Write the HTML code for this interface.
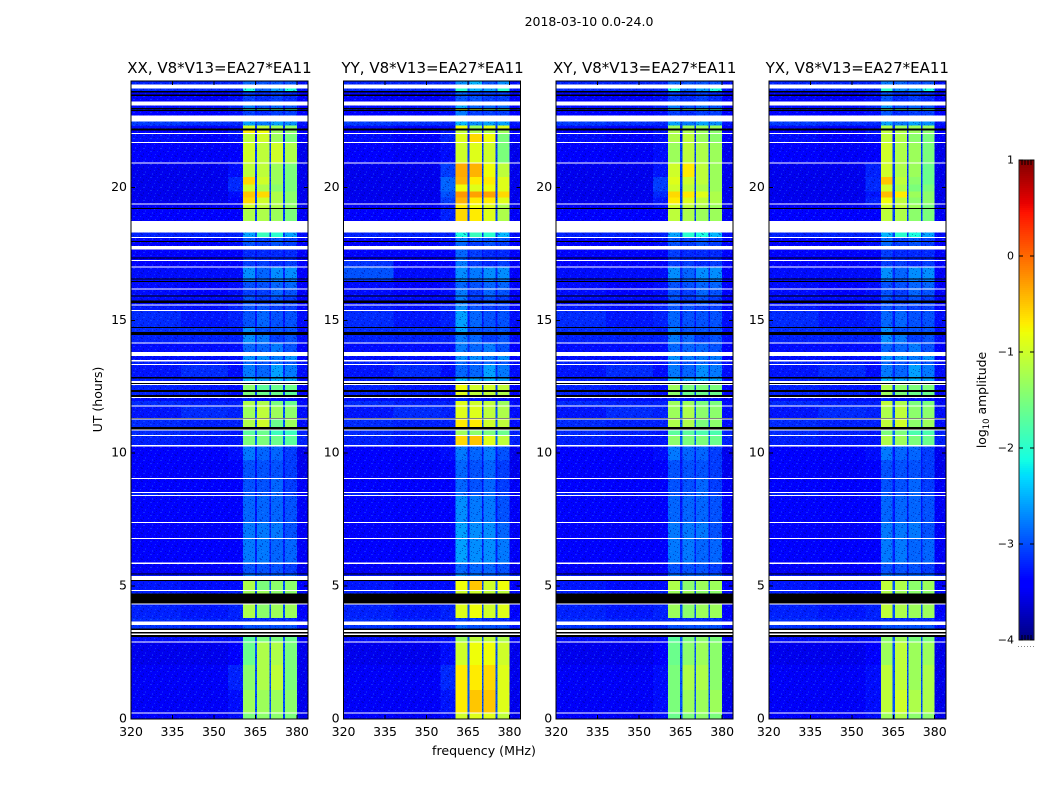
<!DOCTYPE html>
<html>
<head>
<meta charset="utf-8">
<title>2018-03-10 0.0-24.0</title>
<style>
html,body{margin:0;padding:0;background:#fff;width:1050px;height:800px;overflow:hidden}
svg{display:block;font-family:"DejaVu Sans","Liberation Sans",sans-serif;fill:#000}
</style>
</head>
<body>
<svg id="figure" xmlns="http://www.w3.org/2000/svg" width="1050" height="800" viewBox="0 0 1050 800">
<defs>
<pattern id="speckle" patternUnits="userSpaceOnUse" width="17" height="13" shape-rendering="crispEdges">
<rect x="1" y="1" width="1" height="1" fill="#2a7cff" opacity=".35"/>
<rect x="5" y="0" width="2" height="1" fill="#00008c" opacity=".4"/>
<rect x="9" y="2" width="1" height="2" fill="#1f6cff" opacity=".3"/>
<rect x="14" y="1" width="1" height="1" fill="#00008c" opacity=".4"/>
<rect x="3" y="4" width="1" height="1" fill="#00008c" opacity=".4"/>
<rect x="7" y="5" width="2" height="1" fill="#3a8cff" opacity=".3"/>
<rect x="12" y="5" width="1" height="1" fill="#00008c" opacity=".4"/>
<rect x="16" y="4" width="1" height="2" fill="#2a7cff" opacity=".3"/>
<rect x="0" y="7" width="2" height="1" fill="#00008c" opacity=".35"/>
<rect x="4" y="8" width="1" height="1" fill="#2a7cff" opacity=".35"/>
<rect x="10" y="8" width="1" height="1" fill="#00008c" opacity=".4"/>
<rect x="14" y="8" width="2" height="1" fill="#3a8cff" opacity=".3"/>
<rect x="2" y="11" width="1" height="1" fill="#3a8cff" opacity=".3"/>
<rect x="7" y="10" width="1" height="2" fill="#00008c" opacity=".4"/>
<rect x="12" y="11" width="1" height="1" fill="#2a7cff" opacity=".35"/>
<rect x="3" y="2" width="1" height="1" fill="#00008c" opacity=".35"/>
<rect x="11" y="0" width="1" height="1" fill="#00008c" opacity=".35"/>
<rect x="6" y="3" width="1" height="1" fill="#00008c" opacity=".3"/>
<rect x="1" y="5" width="1" height="1" fill="#00008c" opacity=".35"/>
<rect x="14" y="6" width="1" height="1" fill="#00008c" opacity=".3"/>
<rect x="6" y="7" width="1" height="1" fill="#00008c" opacity=".35"/>
<rect x="12" y="9" width="1" height="1" fill="#00008c" opacity=".3"/>
<rect x="4" y="12" width="2" height="1" fill="#00008c" opacity=".3"/>
<rect x="15" y="11" width="1" height="1" fill="#00008c" opacity=".35"/>
</pattern>
</defs>
<text x="589" y="26" font-size="12.5" text-anchor="middle">2018-03-10 0.0-24.0</text>
<text x="484" y="755" font-size="12.6" text-anchor="middle">frequency (MHz)</text>
<text x="0" y="0" font-size="12.5" text-anchor="middle" transform="translate(102,399.5) rotate(-90)">UT (hours)</text>
<text x="0" y="0" font-size="12.4" text-anchor="middle" transform="translate(986,400) rotate(-90)">log<tspan font-size="8.5" dy="3">10</tspan><tspan dy="-3"> amplitude</tspan></text>
</svg>
<script>
// Panel titles
const panelTitles = ["XX, V8*V13=EA27*EA11","YY, V8*V13=EA27*EA11","XY, V8*V13=EA27*EA11","YX, V8*V13=EA27*EA11"];
// Axis ticks
const xTickValues = [320,335,350,365,380];
const yTickValues = [0,5,10,15,20];
const colorbarTickValues = [1,0,-1,-2,-3,-4];
// Frequency column edges (MHz): left, mid, near-band, S1, gap, S2, gap, S3, gap, S4, right
const freqEdges = [320,338,355,360.5,364.8,365.6,370,370.6,375,375.6,380,384];
// Top hour of each data row (UT), descending, last entry closes the final row
const rowEdges = [24,23.71,23.56,23.43,23.08,22.95,22.87,22.48,22.33,22.14,22.00,21.67,20.90,20.38,20.11,19.85,19.62,19.36,19.18,18.31,18.09,17.94,17.66,17.32,17.23,17.00,16.53,16.44,16.15,15.90,15.65,15.56,15.34,14.70,14.44,14.12,13.65,13.45,13.31,12.81,12.56,12.30,12.08,11.97,11.78,11.28,10.85,10.64,10.26,9.74,9.02,8.50,8.39,7.37,6.77,5.84,5.45,5.19,4.81,4.31,3.79,3.53,3.09,2.87,2.03,1.09,0.21,0];
// Flagged (blank) and zero-valued time ranges: [from hour, to hour]
const blankRanges = [[23.87,23.71],[23.23,23.08],[22.71,22.48],[22.04,22.00],[21.70,21.67],[20.94,20.90],[19.39,19.36],[18.73,18.31],[18.13,18.09],[17.79,17.66],[17.26,17.23],[17.03,17.00],[16.19,16.15],[15.60,15.56],[15.38,15.34],[14.16,14.12],[13.81,13.65],[13.50,13.45],[13.35,13.31],[12.72,12.64],[12.61,12.56],[12.12,12.08],[11.80,11.78],[11.30,11.26],[10.89,10.85],[10.68,10.64],[10.30,10.26],[9.06,9.02],[8.53,8.50],[8.43,8.39],[7.41,7.37],[6.80,6.77],[5.88,5.84],[5.38,5.23],[4.85,4.81],[4.35,4.31],[3.66,3.53],[3.35,3.28],[3.22,3.16],[2.91,2.87],[0.25,0.21]];
const zeroRanges = [[23.62,23.56],[23.50,23.43],[22.99,22.95],[22.92,22.87],[22.21,22.14],[19.22,19.18],[17.98,17.94],[17.36,17.32],[16.57,16.53],[16.48,16.44],[15.94,15.90],[15.75,15.65],[14.75,14.70],[14.56,14.44],[12.87,12.81],[12.64,12.61],[12.37,12.30],[12.18,12.12],[11.32,11.30],[10.99,10.89],[5.48,5.45],[5.23,5.19],[4.73,4.35],[3.41,3.35],[3.28,3.22],[3.16,3.09]];
// Shared off-band log10 amplitude by row: [left, mid, right, subband gaps]
const offBandLevels = [
[-3.1,-3.1,-3.2,-2.9],[-2.9,-2.9,-3.0,-2.7],[-3.3,-3.3,-3.3,-3.1],[-3.3,-3.3,-3.3,-3.1],[-3.2,-3.2,-3.3,-3.0],[-3.0,-3.1,-3.2,-2.8],[-3.3,-3.3,-3.3,-3.1],[-2.8,-2.85,-3.0,-2.7],[-3.2,-3.3,-3.3,-2.9],[-3.3,-3.3,-3.3,-3.0],
[-3.2,-3.3,-3.3,-3.0],[-3.3,-3.35,-3.4,-2.8],[-3.4,-3.4,-3.4,-2.8],[-3.4,-3.4,-3.4,-2.8],[-3.4,-3.4,-3.4,-2.8],[-3.4,-3.4,-3.4,-2.8],[-3.4,-3.4,-3.4,-2.8],[-3.35,-3.35,-3.4,-2.8],[-3.3,-3.3,-3.35,-2.8],[-3.1,-3.1,-3.2,-2.8],
[-3.3,-3.3,-3.3,-3.1],[-3.3,-3.3,-3.3,-3.1],[-3.25,-3.25,-3.3,-3.0],[-3.25,-3.25,-3.3,-3.0],[-3.25,-3.25,-3.3,-3.0],[-3.2,-3.2,-3.3,-2.9],[-3.2,-3.2,-3.3,-2.9],[-3.2,-3.25,-3.3,-3.0],[-3.2,-3.25,-3.3,-3.0],[-3.2,-3.2,-3.3,-3.0],
[-3.2,-3.2,-3.3,-3.0],[-3.15,-3.2,-3.25,-3.0],[-3.05,-3.15,-3.2,-3.0],[-3.05,-3.05,-3.2,-2.9],[-3.1,-3.1,-3.2,-2.9],[-3.2,-3.2,-3.3,-2.9],[-3.2,-3.2,-3.3,-2.9],[-3.1,-3.15,-3.2,-3.0],[-3.0,-3.05,-3.2,-2.9],[-2.95,-3.0,-3.2,-2.8],
[-3.1,-3.15,-3.25,-2.8],[-3.1,-3.1,-3.25,-2.8],[-3.2,-3.2,-3.3,-3.0],[-3.05,-3.1,-3.2,-2.8],[-3.0,-3.05,-3.2,-2.7],[-3.05,-3.1,-3.2,-2.7],[-2.9,-2.95,-3.1,-2.6],[-2.95,-3.0,-3.1,-2.6],[-3.3,-3.3,-3.4,-3.0],[-3.3,-3.35,-3.4,-3.0],
[-3.25,-3.3,-3.35,-3.0],[-3.1,-3.2,-3.3,-3.0],[-3.25,-3.3,-3.35,-3.0],[-3.3,-3.35,-3.35,-2.95],[-3.25,-3.3,-3.35,-2.95],[-3.35,-3.35,-3.4,-3.0],[-3.0,-3.0,-3.1,-2.8],[-3.15,-3.2,-3.3,-2.7],[-3.1,-3.15,-3.2,-2.7],[-3.1,-3.15,-3.25,-2.7],
[-3.05,-3.1,-3.2,-2.95],[-2.85,-2.9,-3.0,-2.8],[-3.2,-3.2,-3.3,-2.7],[-3.4,-3.4,-3.4,-2.7],[-3.35,-3.35,-3.4,-2.7],[-3.35,-3.35,-3.4,-2.7],[-3.3,-3.35,-3.4,-2.8]];
// Per-panel levels by row: [near-band, S1, S2, S3, S4]
const xxLevels = [
[-3.1,-2.6,-2.7,-2.7,-2.7],[-2.9,-2.1,-2.6,-2.3,-2.1],[-3.2,-2.8,-2.9,-2.8,-2.9],[-3.2,-2.8,-2.9,-2.8,-2.9],[-3.1,-2.5,-2.7,-2.6,-2.7],[-3.1,-1.9,-1.8,-1.8,-1.8],[-3.2,-2.8,-2.9,-2.8,-2.8],[-2.9,-2.3,-2.5,-2.3,-2.4],[-3.2,-1.0,-1.1,-1.3,-1.4],[-3.0,-0.7,-0.8,-1.3,-1.4],
[-3.2,-1.1,-1.0,-1.3,-1.5],[-3.3,-1.0,-1.1,-1.0,-1.2],[-3.2,-1.1,-1.1,-1.3,-1.5],[-2.9,-0.6,-1.0,-1.3,-1.5],[-2.9,-1.0,-1.2,-1.4,-1.5],[-3.2,-0.5,-0.6,-1.2,-1.4],[-3.3,-0.6,-1.0,-1.2,-1.4],[-3.3,-1.0,-1.1,-1.2,-1.4],[-3.3,-1.2,-1.2,-1.3,-1.5],[-3.1,-2.3,-1.9,-2.0,-2.3],
[-3.2,-2.7,-2.8,-2.7,-2.8],[-3.2,-2.7,-2.8,-2.7,-2.8],[-3.3,-2.9,-2.9,-2.9,-2.9],[-3.3,-2.8,-2.9,-2.9,-2.9],[-3.3,-2.8,-2.8,-2.9,-2.8],[-3.2,-2.4,-2.6,-2.4,-2.4],[-3.2,-2.5,-2.6,-2.5,-2.5],[-3.2,-2.7,-2.7,-2.6,-2.6],[-3.2,-2.8,-2.8,-2.6,-2.7],[-3.2,-2.7,-2.8,-2.7,-2.8],
[-3.2,-2.7,-2.8,-2.7,-2.8],[-3.1,-2.7,-2.7,-2.8,-2.8],[-3.1,-2.7,-2.6,-2.7,-2.7],[-3.1,-2.4,-2.7,-2.7,-2.7],[-3.1,-2.4,-2.5,-2.8,-2.7],[-3.2,-2.6,-2.6,-2.5,-2.7],[-3.2,-2.4,-2.4,-2.5,-2.4],[-3.2,-2.6,-2.7,-2.6,-2.7],[-3.2,-2.5,-2.6,-2.3,-2.5],[-3.1,-2.2,-2.3,-2.2,-2.3],
[-3.2,-1.4,-1.7,-1.6,-1.6],[-3.2,-1.5,-1.6,-1.6,-1.7],[-3.2,-2.9,-3.0,-3.0,-3.0],[-3.1,-1.2,-1.2,-1.5,-1.6],[-3.1,-1.3,-1.1,-1.3,-1.4],[-3.1,-1.2,-1.0,-1.6,-1.3],[-3.0,-1.7,-1.6,-1.9,-1.9],[-3.0,-1.5,-1.5,-1.6,-1.7],[-3.2,-2.5,-2.6,-2.6,-2.8],[-3.3,-2.7,-2.7,-2.7,-2.8],
[-3.3,-2.7,-2.7,-2.6,-2.8],[-3.2,-2.7,-2.7,-2.6,-2.8],[-3.3,-2.6,-2.6,-2.6,-2.7],[-3.3,-2.5,-2.5,-2.5,-2.7],[-3.3,-2.5,-2.5,-2.6,-2.6],[-3.3,-2.7,-2.7,-2.7,-2.8],[-3.0,-2.5,-2.6,-2.6,-2.6],[-3.2,-1.2,-1.5,-1.4,-1.4],[-3.1,-1.3,-1.3,-1.4,-1.4],[-3.1,-1.2,-1.4,-1.3,-1.3],
[-3.1,-2.9,-2.9,-2.9,-2.9],[-2.9,-2.7,-2.7,-2.7,-2.7],[-3.2,-1.7,-1.5,-1.5,-1.6],[-3.3,-1.6,-1.2,-1.2,-1.5],[-3.1,-1.4,-1.2,-1.1,-1.5],[-3.2,-1.3,-1.3,-1.3,-1.4],[-3.2,-1.5,-1.4,-1.4,-1.5]];
const yyLevels = [
[-3.1,-2.4,-2.2,-2.7,-2.4],[-2.9,-2.0,-2.2,-2.3,-2.0],[-3.2,-2.6,-2.8,-2.8,-2.8],[-3.2,-2.7,-2.7,-2.8,-2.8],[-3.1,-2.3,-2.6,-2.6,-2.6],[-3.1,-0.9,-1.0,-1.4,-1.7],[-3.2,-2.5,-2.8,-2.8,-2.8],[-2.9,-2.2,-2.4,-2.3,-2.3],[-3.2,-0.8,-1.3,-0.9,-0.9],[-3.0,-1.1,-1.2,-1.2,-1.3],
[-3.1,-0.9,-0.6,-0.8,-1.5],[-3.2,-1.0,-0.9,-1.0,-1.5],[-2.8,-0.35,-0.4,-0.8,-1.1],[-2.6,-0.4,-0.7,-0.7,-0.9],[-2.6,-0.8,-0.9,-0.8,-0.9],[-2.7,-0.25,-0.3,-0.3,-0.6],[-2.8,-0.4,-0.7,-0.7,-0.9],[-3.0,-0.7,-0.8,-0.9,-1.2],[-3.1,-0.6,-0.7,-0.9,-1.2],[-3.1,-2.1,-1.9,-2.0,-2.2],
[-3.2,-2.5,-2.6,-2.7,-2.7],[-3.2,-2.6,-2.8,-2.7,-2.8],[-3.3,-2.6,-2.8,-2.9,-2.9],[-3.3,-2.6,-2.8,-2.9,-2.9],[-3.3,-2.5,-2.8,-2.9,-2.8],[-3.2,-2.4,-2.5,-2.4,-2.4],[-3.2,-2.4,-2.6,-2.5,-2.5],[-3.2,-2.6,-2.7,-2.6,-2.6],[-3.2,-2.5,-2.8,-2.6,-2.7],[-3.2,-2.5,-2.8,-2.7,-2.8],
[-3.2,-2.5,-2.8,-2.7,-2.8],[-3.1,-2.4,-2.7,-2.8,-2.8],[-3.1,-2.3,-2.6,-2.7,-2.7],[-3.1,-2.3,-2.7,-2.7,-2.7],[-3.1,-2.5,-2.6,-2.8,-2.7],[-3.2,-2.5,-2.6,-2.5,-2.7],[-3.2,-2.4,-2.4,-2.5,-2.4],[-3.2,-2.6,-2.7,-2.6,-2.7],[-3.2,-2.6,-2.6,-2.3,-2.5],[-3.1,-2.2,-2.3,-2.2,-2.3],
[-3.2,-0.8,-1.0,-1.0,-1.1],[-3.2,-0.9,-1.1,-1.1,-1.2],[-3.2,-2.9,-3.0,-3.0,-3.0],[-3.1,-0.9,-1.0,-1.1,-1.3],[-3.1,-0.9,-0.9,-1.1,-1.2],[-3.1,-0.7,-0.7,-1.0,-1.1],[-3.0,-1.3,-1.4,-1.5,-1.6],[-3.0,-0.6,-0.5,-0.9,-1.1],[-3.2,-2.5,-2.6,-2.5,-2.7],[-3.3,-2.6,-2.7,-2.6,-2.8],
[-3.3,-2.6,-2.7,-2.6,-2.8],[-3.2,-2.6,-2.7,-2.6,-2.8],[-3.3,-2.4,-2.5,-2.5,-2.7],[-3.3,-2.3,-2.4,-2.4,-2.6],[-3.3,-2.3,-2.4,-2.4,-2.5],[-3.3,-2.6,-2.6,-2.6,-2.7],[-3.0,-2.4,-2.5,-2.6,-2.6],[-3.2,-0.8,-0.5,-1.0,-0.8],[-3.1,-1.0,-1.0,-1.1,-1.1],[-3.1,-0.9,-0.8,-1.0,-0.9],
[-3.1,-2.8,-2.8,-2.9,-2.9],[-2.9,-2.6,-2.7,-2.7,-2.7],[-3.2,-1.3,-1.1,-1.1,-1.2],[-3.2,-1.0,-0.8,-0.8,-1.0],[-2.9,-0.7,-0.7,-0.6,-0.9],[-3.0,-0.7,-0.5,-0.5,-0.9],[-3.2,-1.0,-0.9,-0.9,-1.1]];
const xyLevels = [
[-3.1,-2.6,-2.7,-2.7,-2.7],[-2.9,-2.1,-2.6,-2.3,-2.1],[-3.2,-2.8,-2.9,-2.8,-2.9],[-3.2,-2.8,-2.9,-2.8,-2.9],[-3.1,-2.5,-2.7,-2.6,-2.7],[-3.1,-1.7,-1.5,-1.6,-1.8],[-3.2,-2.8,-2.9,-2.8,-2.8],[-2.9,-2.3,-2.5,-2.3,-2.4],[-3.2,-1.3,-1.3,-1.3,-1.3],[-3.0,-1.2,-1.2,-1.3,-1.4],
[-3.2,-1.2,-1.1,-1.3,-1.4],[-3.2,-1.3,-1.1,-1.2,-1.3],[-3.0,-1.0,-0.7,-1.1,-1.3],[-2.8,-0.9,-1.0,-1.1,-1.3],[-2.8,-1.0,-1.1,-1.2,-1.3],[-2.9,-0.6,-0.7,-0.9,-1.2],[-3.0,-0.7,-0.9,-1.1,-1.2],[-3.2,-1.0,-1.1,-1.2,-1.3],[-3.3,-1.1,-1.2,-1.3,-1.3],[-3.1,-2.3,-2.0,-2.1,-2.2],
[-3.2,-2.7,-2.8,-2.7,-2.8],[-3.2,-2.7,-2.8,-2.7,-2.8],[-3.3,-2.8,-2.9,-2.9,-2.9],[-3.3,-2.8,-2.9,-2.9,-2.9],[-3.3,-2.8,-2.8,-2.9,-2.8],[-3.2,-2.4,-2.6,-2.4,-2.4],[-3.2,-2.5,-2.6,-2.5,-2.5],[-3.2,-2.7,-2.7,-2.6,-2.6],[-3.2,-2.7,-2.8,-2.6,-2.7],[-3.2,-2.7,-2.8,-2.7,-2.8],
[-3.2,-2.7,-2.8,-2.7,-2.8],[-3.1,-2.7,-2.7,-2.8,-2.8],[-3.1,-2.6,-2.7,-2.7,-2.7],[-3.1,-2.5,-2.7,-2.7,-2.7],[-3.1,-2.5,-2.6,-2.8,-2.7],[-3.2,-2.6,-2.6,-2.6,-2.7],[-3.2,-2.4,-2.5,-2.5,-2.5],[-3.2,-2.6,-2.7,-2.6,-2.7],[-3.2,-2.5,-2.6,-2.4,-2.5],[-3.1,-2.2,-2.3,-2.2,-2.3],
[-3.2,-1.3,-1.5,-1.5,-1.5],[-3.2,-1.4,-1.6,-1.6,-1.6],[-3.2,-2.9,-3.0,-3.0,-3.0],[-3.1,-1.3,-1.3,-1.5,-1.5],[-3.1,-1.3,-1.2,-1.4,-1.4],[-3.1,-1.2,-1.2,-1.5,-1.4],[-3.0,-1.7,-1.7,-1.8,-1.8],[-3.0,-1.4,-1.5,-1.5,-1.6],[-3.2,-2.5,-2.6,-2.6,-2.8],[-3.3,-2.7,-2.7,-2.7,-2.8],
[-3.3,-2.7,-2.7,-2.6,-2.8],[-3.2,-2.7,-2.7,-2.6,-2.8],[-3.3,-2.6,-2.6,-2.6,-2.7],[-3.3,-2.5,-2.5,-2.5,-2.7],[-3.3,-2.5,-2.5,-2.6,-2.6],[-3.3,-2.7,-2.7,-2.7,-2.8],[-3.0,-2.5,-2.6,-2.6,-2.6],[-3.2,-1.2,-1.4,-1.3,-1.3],[-3.1,-1.3,-1.3,-1.4,-1.4],[-3.1,-1.3,-1.4,-1.3,-1.3],
[-3.1,-2.9,-2.9,-2.9,-2.9],[-2.9,-2.7,-2.7,-2.7,-2.7],[-3.2,-1.7,-1.5,-1.4,-1.5],[-3.3,-1.6,-1.4,-1.3,-1.4],[-3.2,-1.5,-1.2,-1.2,-1.4],[-3.2,-1.5,-1.3,-1.3,-1.3],[-3.2,-1.6,-1.5,-1.4,-1.5]];
const yxLevels = [
[-3.1,-2.5,-2.6,-2.7,-2.7],[-2.9,-2.0,-2.4,-2.3,-2.1],[-3.2,-2.7,-2.9,-2.8,-2.9],[-3.2,-2.7,-2.9,-2.8,-2.9],[-3.1,-2.4,-2.7,-2.6,-2.7],[-3.1,-1.6,-1.7,-1.7,-1.8],[-3.2,-2.7,-2.9,-2.8,-2.8],[-2.9,-2.3,-2.5,-2.3,-2.4],[-3.2,-1.2,-1.3,-1.3,-1.3],[-3.0,-1.1,-1.2,-1.3,-1.4],
[-3.2,-1.1,-1.2,-1.4,-1.5],[-3.3,-1.0,-1.2,-1.3,-1.5],[-3.1,-1.0,-1.2,-1.3,-1.6],[-2.9,-0.5,-1.1,-1.4,-1.6],[-2.9,-1.0,-1.2,-1.5,-1.5],[-3.0,-0.45,-0.7,-1.3,-1.4],[-3.1,-0.8,-1.1,-1.4,-1.4],[-3.2,-1.0,-1.1,-1.3,-1.5],[-3.3,-1.1,-1.2,-1.4,-1.5],[-3.1,-2.2,-2.0,-2.1,-2.3],
[-3.2,-2.6,-2.8,-2.7,-2.8],[-3.2,-2.6,-2.8,-2.7,-2.8],[-3.3,-2.8,-2.9,-2.9,-2.9],[-3.3,-2.8,-2.9,-2.9,-2.9],[-3.3,-2.8,-2.8,-2.9,-2.8],[-3.2,-2.4,-2.6,-2.4,-2.4],[-3.2,-2.5,-2.6,-2.5,-2.5],[-3.2,-2.7,-2.7,-2.6,-2.6],[-3.2,-2.7,-2.8,-2.6,-2.7],[-3.2,-2.7,-2.8,-2.7,-2.8],
[-3.2,-2.7,-2.8,-2.7,-2.8],[-3.1,-2.7,-2.7,-2.8,-2.8],[-3.1,-2.6,-2.6,-2.7,-2.7],[-3.1,-2.4,-2.7,-2.7,-2.7],[-3.1,-2.4,-2.5,-2.8,-2.7],[-3.2,-2.6,-2.6,-2.5,-2.7],[-3.2,-2.4,-2.4,-2.5,-2.4],[-3.2,-2.6,-2.7,-2.6,-2.7],[-3.2,-2.5,-2.6,-2.3,-2.5],[-3.1,-2.2,-2.3,-2.2,-2.3],
[-3.2,-1.2,-1.4,-1.5,-1.5],[-3.2,-1.3,-1.5,-1.6,-1.6],[-3.2,-2.9,-3.0,-3.0,-3.0],[-3.1,-1.1,-1.2,-1.5,-1.5],[-3.1,-1.2,-1.1,-1.4,-1.4],[-3.1,-1.1,-1.0,-1.4,-1.3],[-3.0,-1.5,-1.5,-1.8,-1.8],[-3.0,-1.2,-1.3,-1.5,-1.6],[-3.2,-2.5,-2.6,-2.6,-2.8],[-3.3,-2.7,-2.7,-2.7,-2.8],
[-3.3,-2.7,-2.7,-2.6,-2.8],[-3.2,-2.7,-2.7,-2.6,-2.8],[-3.3,-2.6,-2.6,-2.6,-2.7],[-3.3,-2.5,-2.5,-2.5,-2.7],[-3.3,-2.5,-2.5,-2.6,-2.6],[-3.3,-2.7,-2.7,-2.7,-2.8],[-3.0,-2.5,-2.6,-2.6,-2.6],[-3.2,-1.1,-1.2,-1.4,-1.3],[-3.1,-1.2,-1.3,-1.4,-1.4],[-3.1,-1.1,-1.2,-1.3,-1.3],
[-3.1,-2.9,-2.9,-2.9,-2.9],[-2.9,-2.7,-2.7,-2.7,-2.7],[-3.2,-1.4,-1.3,-1.5,-1.5],[-3.3,-1.3,-1.1,-1.3,-1.3],[-3.2,-1.1,-1.1,-1.3,-1.2],[-3.2,-1.1,-1.0,-1.2,-1.2],[-3.2,-1.3,-1.2,-1.4,-1.4]];
const panelLevels = [xxLevels,yyLevels,xyLevels,yxLevels];
const panelNames = ["xx","yy","xy","yx"];
// YY left-side brightening around 16.5-17 UT: row index and level
const yyLeftPatchRows = [24,25,26];
const yyLeftPatchLevels = [-2.85,-2.7,-2.85];
// Tone calibration for the noise floor (log10 units)
const floorToneShift = -0.12;
const quietToneShift = -0.28;

const NS = "http://www.w3.org/2000/svg";
const svg = document.getElementById("figure");
const panelLeft = [131,343.6,556.2,768.8];
const panelW = 177, panelTop = 81, panelBottom = 719;
function xScale(f,left){return left+(f-320)*panelW/64;}
function yScale(t){return panelTop+(24-t)*(panelBottom-panelTop)/24;}
function toned(v){
  if(v<-3) return v+floorToneShift;
  if(v<-2.15) return v+quietToneShift;
  return v;
}
function jet(v){
  const t=Math.max(0,Math.min(1,(v+4)/5));
  const c=(x)=>Math.round(255*Math.max(0,Math.min(1,x)));
  const r=c(t<0.35?0:t<0.66?(t-0.35)/0.31:t<0.89?1:1-(t-0.89)/0.11*0.5);
  const g=c(t<0.125?0:t<0.375?(t-0.125)/0.25:t<0.64?1:t<0.91?1-(t-0.64)/0.27:0);
  const b=c(t<0.11?0.5+t/0.11*0.5:t<0.34?1:t<0.65?1-(t-0.34)/0.31:0);
  return "rgb("+r+","+g+","+b+")";
}
function mk(tag,attrs,parent){
  const e=document.createElementNS(NS,tag);
  for(const k in attrs){e.setAttribute(k,attrs[k]);}
  (parent||svg).appendChild(e);
  return e;
}
function cellValue(p,row,col){
  const off=offBandLevels[row], lv=panelLevels[p][row];
  if(col===0){
    if(p===1){const i=yyLeftPatchRows.indexOf(row); if(i>=0) return yyLeftPatchLevels[i];}
    return off[0];
  }
  if(col===1) return off[1];
  if(col===2) return lv[0];
  if(col===3) return lv[1];
  if(col===5) return lv[2];
  if(col===7) return lv[3];
  if(col===9) return lv[4];
  if(col===10) return off[2];
  return off[3];
}
panelTitles.forEach((title,p)=>{
  const left=panelLeft[p];
  const g=mk("g",{"shape-rendering":"crispEdges"});
  
  
  for(let r=0;r<rowEdges.length-1;r++){
    const y0=yScale(rowEdges[r]), y1=yScale(rowEdges[r+1]);
    for(let c=0;c<freqEdges.length-1;c++){
      const x0=xScale(freqEdges[c],left), x1=xScale(freqEdges[c+1],left);
      const v=cellValue(p,r,c);
      const cell=mk("rect",{x:x0,y:y0,width:x1-x0,height:y1-y0,fill:jet(toned(v))},g);
      
      
      if(v<-2){
        const sp=mk("rect",{x:x0,y:y0,width:x1-x0,height:y1-y0,fill:"url(#speckle)"},g);
        
        
      }
    }
  }
  zeroRanges.forEach(b=>{
    const e=mk("rect",{x:left,y:yScale(b[0]),width:panelW,height:Math.max(1,yScale(b[1])-yScale(b[0])),fill:"#000"},g);
    
    
  });
  blankRanges.forEach(b=>{
    const e=mk("rect",{x:left,y:yScale(b[0]),width:panelW,height:Math.max(1,yScale(b[1])-yScale(b[0])),fill:"#fff"},g);
    
    
  });
  const frame=mk("rect",{x:left,y:panelTop,width:panelW,height:panelBottom-panelTop,fill:"none",stroke:"#000","stroke-width":1},g);
  
  
  xTickValues.forEach(f=>{
    const x=xScale(f,left);
    const t1=mk("line",{x1:x,x2:x,y1:panelBottom,y2:panelBottom-4,stroke:"#000"},g);
    
    
    const t2=mk("line",{x1:x,x2:x,y1:panelTop,y2:panelTop+4,stroke:"#000"},g);
    
    
    const lab=mk("text",{x:x,y:736,"font-size":12.5,"text-anchor":"middle"});
    
    
    lab.textContent=f;
  });
  yTickValues.forEach(h=>{
    const y=yScale(h);
    const t1=mk("line",{x1:left,x2:left+4,y1:y,y2:y,stroke:"#000"},g);
    
    
    const t2=mk("line",{x1:left+panelW,x2:left+panelW-4,y1:y,y2:y,stroke:"#000"},g);
    
    
    const lab=mk("text",{x:left-4,y:y+3.5,"font-size":12.5,"text-anchor":"end"});
    
    
    lab.textContent=h;
  });
  const tt=mk("text",{x:left+panelW/2+(p===1?0.5:0),y:73,"font-size":15,"text-anchor":"middle"});
  
  
  tt.textContent=title;
});
// Colorbar
const cbX=1019, cbW=15, cbTop=160, cbBottom=640;
function cbY(v){return cbTop+(1-v)*(cbBottom-cbTop)/5;}
const cb=mk("g",{"shape-rendering":"crispEdges"});


for(let py=cbTop;py<cbBottom;py+=2){
  const v=1-(py+1-cbTop)*5/(cbBottom-cbTop);
  const s=mk("rect",{x:cbX,y:py,width:cbW,height:2,fill:jet(v)},cb);
  
  
}
const cbFrame=mk("rect",{x:cbX,y:cbTop,width:cbW,height:cbBottom-cbTop,fill:"none",stroke:"#222"},cb);


colorbarTickValues.forEach(v=>{
  const y=cbY(v);
  const l=mk("line",{x1:cbX,x2:cbX+4,y1:y,y2:y,stroke:"#000"},cb);
  
  
  const r=mk("line",{x1:cbX+cbW,x2:cbX+cbW-4,y1:y,y2:y,stroke:"#000"},cb);
  
  
  const lab=mk("text",{x:cbX-5,y:y+3.5,"font-size":11,"text-anchor":"end"});
  
  
  lab.textContent=(v<0?"\u2212":"")+Math.abs(v);
});
for(let i=1;i<=4;i++){
  const x=cbX+i*3;
  const a=mk("line",{x1:x,x2:x,y1:cbTop,y2:cbTop+5,stroke:"#000"},cb);
  
  
  const b=mk("line",{x1:x,x2:x,y1:cbBottom,y2:cbBottom-5,stroke:"#000"},cb);
  
  
}
for(let i=0;i<6;i++){
  const d=mk("rect",{x:1018+i*3,y:646,width:1,height:1,fill:"#888"},cb);
  
  
}
</script>
</body>
</html>
